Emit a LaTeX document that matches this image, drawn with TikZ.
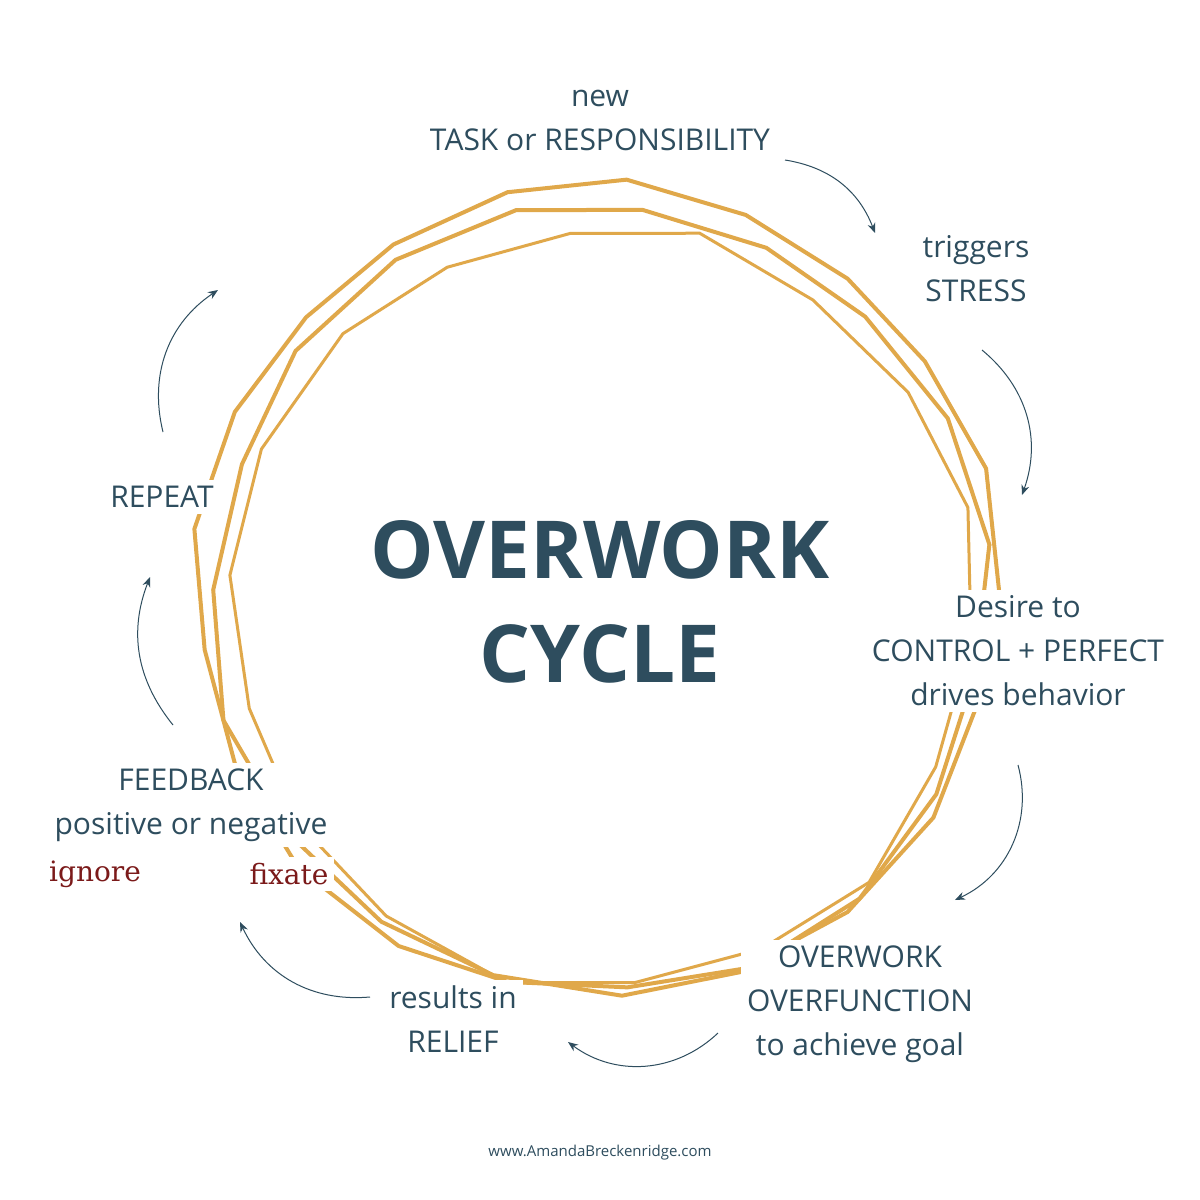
\documentclass[tikz,border=0pt]{standalone}
\usepackage{fontspec}
\setmainfont{Open Sans}
\newfontfamily\hand{DejaVu Serif}
\usetikzlibrary{arrows.meta}
\definecolor{ink}{HTML}{2E4D5E}
\definecolor{ring}{HTML}{E0A84A}
\definecolor{redt}{HTML}{7B1A1A}
\tikzset{lbl/.style={text=ink,font=\fontsize{15}{22}\selectfont,align=center,fill=white,inner sep=3pt},
 arr/.style={draw=ink,line width=0.5pt,-{Stealth[length=5pt,width=4pt]}},
 rg/.style={draw=ring,line width=2pt,line join=miter}}
\begin{document}
\begin{tikzpicture}[x=0.5pt,y=-0.5pt]
\useasboundingbox (0,0) rectangle (1200,1200);
\fill[white] (0,0) rectangle (1200,1200);
\draw[rg] plot[domain=0:360,samples=22] ({597+(402+6*sin(7*\x))*cos(\x)},{590-(405+7*sin(5*\x))*sin(\x)}) -- cycle;
\draw[rg] plot[domain=8:368,samples=20] ({600+(388+7*sin(6*\x))*cos(\x)},{600-(395+6*sin(4*\x))*sin(\x)}) -- cycle;
\draw[rg,line width=1.5pt] plot[domain=15:375,samples=19] ({603+(372+6*sin(5*\x))*cos(\x)},{608-(380+8*sin(6*\x))*sin(\x)}) -- cycle;
\node[lbl] (n1) at (600,120) {new\\TASK or RESPONSIBILITY};
\node[lbl] (n2) at (976,269) {triggers\\STRESS};
\node[lbl] (n3) at (1018,651) {Desire to\\CONTROL + PERFECT\\drives behavior};
\node[lbl] (n4) at (860,1004) {OVERWORK\\OVERFUNCTION\\to achieve goal};
\node[lbl] (n5) at (453,1019) {results in\\RELIEF};
\node[lbl] (n6) at (191,805) {FEEDBACK\\positive or negative};
\node[lbl,text=redt,font=\hand\fontsize{14}{16}\selectfont] (n7) at (95,874) {ignore};
\node[lbl,text=redt,font=\hand\fontsize{14}{16}\selectfont] (n8) at (289,874) {fixate};
\node[lbl] (n9) at (162,497) {REPEAT};
\node[text=ink,font=\bfseries\fontsize{40}{52}\selectfont,align=center] (t) at (600,602) {OVERWORK\\CYCLE};
\node[text=ink,font=\fontsize{7.5}{9}\selectfont] (f) at (600,1153) {www.AmandaBreckenridge.com};
\coordinate (a1) at (785,160); \coordinate (b1) at (875,233);
\coordinate (a2) at (982,350); \coordinate (b2) at (1022,495);
\coordinate (a3) at (1018,765); \coordinate (b3) at (955,900);
\coordinate (a4) at (718,1033); \coordinate (b4) at (568,1042);
\coordinate (a5) at (370,997); \coordinate (b5) at (240,922);
\coordinate (a6) at (173,725); \coordinate (b6) at (150,577);
\coordinate (a7) at (163,432); \coordinate (b7) at (218,290);
\draw[arr] (a1) to[bend left=30] (b1);
\draw[arr] (a2) to[bend left=35] (b2);
\draw[arr] (a3) to[bend left=40] (b3);
\draw[arr] (a4) to[bend left=40] (b4);
\draw[arr] (a5) to[bend left=35] (b5);
\draw[arr] (a6) to[bend left=30] (b6);
\draw[arr] (a7) to[bend left=35] (b7);
\end{tikzpicture}
\end{document}
